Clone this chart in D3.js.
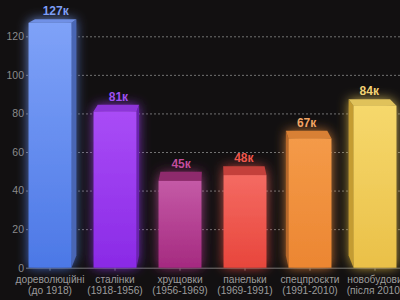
<!DOCTYPE html>
<html>
<head>
<meta charset="utf-8">
<script src="https://cdn.jsdelivr.net/npm/d3@7"></script>
<style>
    body { margin: 0; background: #121011; }
    svg { display: block; font-family: "Liberation Sans", Arial, sans-serif; }
</style>
</head>
<body>
<div id="chart"></div>
<script>
// data
let categories = ["дореволюційні", "сталінки", "хрущовки", "панельки", "спецпроєкти", "новобудови"];
let periods = ["(до 1918)", "(1918-1956)", "(1956-1969)", "(1969-1991)", "(1991-2010)", "(після 2010)"];
let values = [127, 81, 45, 48, 67, 84];
let valueLabels = ["127к", "81к", "45к", "48к", "67к", "84к"];
let yTicks = [0, 20, 40, 60, 80, 100, 120];

// palette: [front top, front bottom, top face, side face, label]
let palette = [
    ["#7fa2f8", "#4c78e6", "#6f90e6", "#4a66b4", "#7d9ef5"],
    ["#a94cf6", "#8a2ae6", "#8d34d8", "#6a22b0", "#9f50f2"],
    ["#c45aa6", "#a52a80", "#8e2c6c", "#7a2060", "#c24d9c"],
    ["#f46a62", "#e8463c", "#c4403a", "#b0362e", "#f0564c"],
    ["#f49a48", "#ec8632", "#d88034", "#b8682a", "#f2a464"],
    ["#f6d86c", "#eac048", "#e0c25a", "#c49c30", "#f2d274"]
];

let width = 400, height = 300;
let vp = { x: 212, y: -80 }, k = 0.035; // fake perspective for the 3d boxes

let svg = d3.select("#chart").append("svg")
    .attr("width", width)
    .attr("height", height);

let defs = svg.append("defs");

// glow
let glow = defs.append("filter").attr("id", "glow")
    .attr("x", "-50%").attr("y", "-50%").attr("width", "200%").attr("height", "200%");
glow.append("feGaussianBlur").attr("in", "SourceGraphic").attr("stdDeviation", 6).attr("result", "blur");
glow.append("feComponentTransfer").attr("in", "blur").attr("result", "soft")
    .append("feFuncA").attr("type", "linear").attr("slope", 0.85);
let merge = glow.append("feMerge");
merge.append("feMergeNode").attr("in", "soft");
merge.append("feMergeNode").attr("in", "SourceGraphic");

palette.forEach(function (c, i) {
    let g = defs.append("linearGradient").attr("id", "grad" + i)
        .attr("x1", 0).attr("y1", 0).attr("x2", 0).attr("y2", 1);
    g.append("stop").attr("offset", "0%").attr("stop-color", c[0]);
    g.append("stop").attr("offset", "100%").attr("stop-color", c[1]);
});

let x = d3.scaleBand()
    .domain(categories)
    .range([17.5, 407.5])
    .paddingInner(0.34)
    .paddingOuter(0.17);

let y = d3.scaleLinear()
    .domain([0, 120])
    .range([267.7, 36.3]);

// grid lines
svg.append("g")
    .selectAll("line")
    .data(yTicks.slice(1))
    .join("line")
    .attr("x1", 26)
    .attr("x2", width)
    .attr("y1", d => y(d) + 0.5)
    .attr("y2", d => y(d) + 0.5)
    .attr("stroke", "#8a8a8a")
    .attr("stroke-opacity", 0.8)
    .attr("stroke-dasharray", "2,2");

// y axis labels
let yAxis = svg.append("g")
    .attr("transform", "translate(25,0)")
    .call(d3.axisLeft(y).tickValues(yTicks).tickSize(0).tickPadding(1));
yAxis.select(".domain").remove();
yAxis.selectAll("text")
    .attr("fill", "#8a8a8a")
    .style("font-size", "10.5px");

// x axis
let xAxis = svg.append("g")
    .attr("transform", "translate(0," + y(0) + ")")
    .call(d3.axisBottom(x).tickSize(3).tickFormat(""));
xAxis.select(".domain").attr("stroke", "#777").attr("d", "M26,0.5H400");
xAxis.selectAll(".tick line").attr("stroke", "#777");

let labels = svg.append("g")
    .attr("fill", "#9c9c9c")
    .style("font-size", "10.2px")
    .attr("text-anchor", "middle");
labels.selectAll("text.cat")
    .data(categories)
    .join("text")
    .attr("class", "cat")
    .attr("x", d => x(d) + x.bandwidth() / 2)
    .attr("y", 283)
    .text(d => d);
labels.selectAll("text.per")
    .data(periods)
    .join("text")
    .attr("class", "per")
    .attr("x", (d, i) => x(categories[i]) + x.bandwidth() / 2)
    .attr("y", 293.5)
    .text(d => d);

// project a point toward the vanishing point
function back(px, py) {
    return [px + (vp.x - px) * k, py + (vp.y - py) * k];
}

// bars
let bars = svg.append("g");
values.forEach(function (v, i) {
    let c = palette[i];
    let x0 = x(categories[i]), x1 = x0 + x.bandwidth();
    let yt = y(v), yb = y(0);
    let g = bars.append("g").attr("filter", "url(#glow)");

    let tl = back(x0, yt), tr = back(x1, yt);
    // side face
    if (x0 < vp.x - 60) {
        let br = back(x1, yb);
        g.append("path")
            .attr("d", d3.line()([[x1, yt], tr, br, [x1, yb]]))
            .attr("fill", c[3]);
    }
    if (x0 > vp.x + 60) {
        let bl = back(x0, yb);
        g.append("path")
            .attr("d", d3.line()([[x0, yt], tl, bl, [x0, yb]]))
            .attr("fill", c[3]);
    }
    // top face
    g.append("path")
        .attr("d", d3.line()([[x0, yt], tl, tr, [x1, yt]]))
        .attr("fill", c[2]);
    // front
    g.append("rect")
        .attr("x", x0)
        .attr("y", yt)
        .attr("width", x.bandwidth())
        .attr("height", yb - yt)
        .attr("fill", "url(#grad" + i + ")");

    svg.append("text")
        .attr("x", (tl[0] + tr[0]) / 2)
        .attr("y", tl[1] - 4)
        .attr("text-anchor", "middle")
        .attr("fill", c[4])
        .style("font-size", "12px")
        .style("font-weight", "bold")
        .text(valueLabels[i]);
});
</script>
</body>
</html>
